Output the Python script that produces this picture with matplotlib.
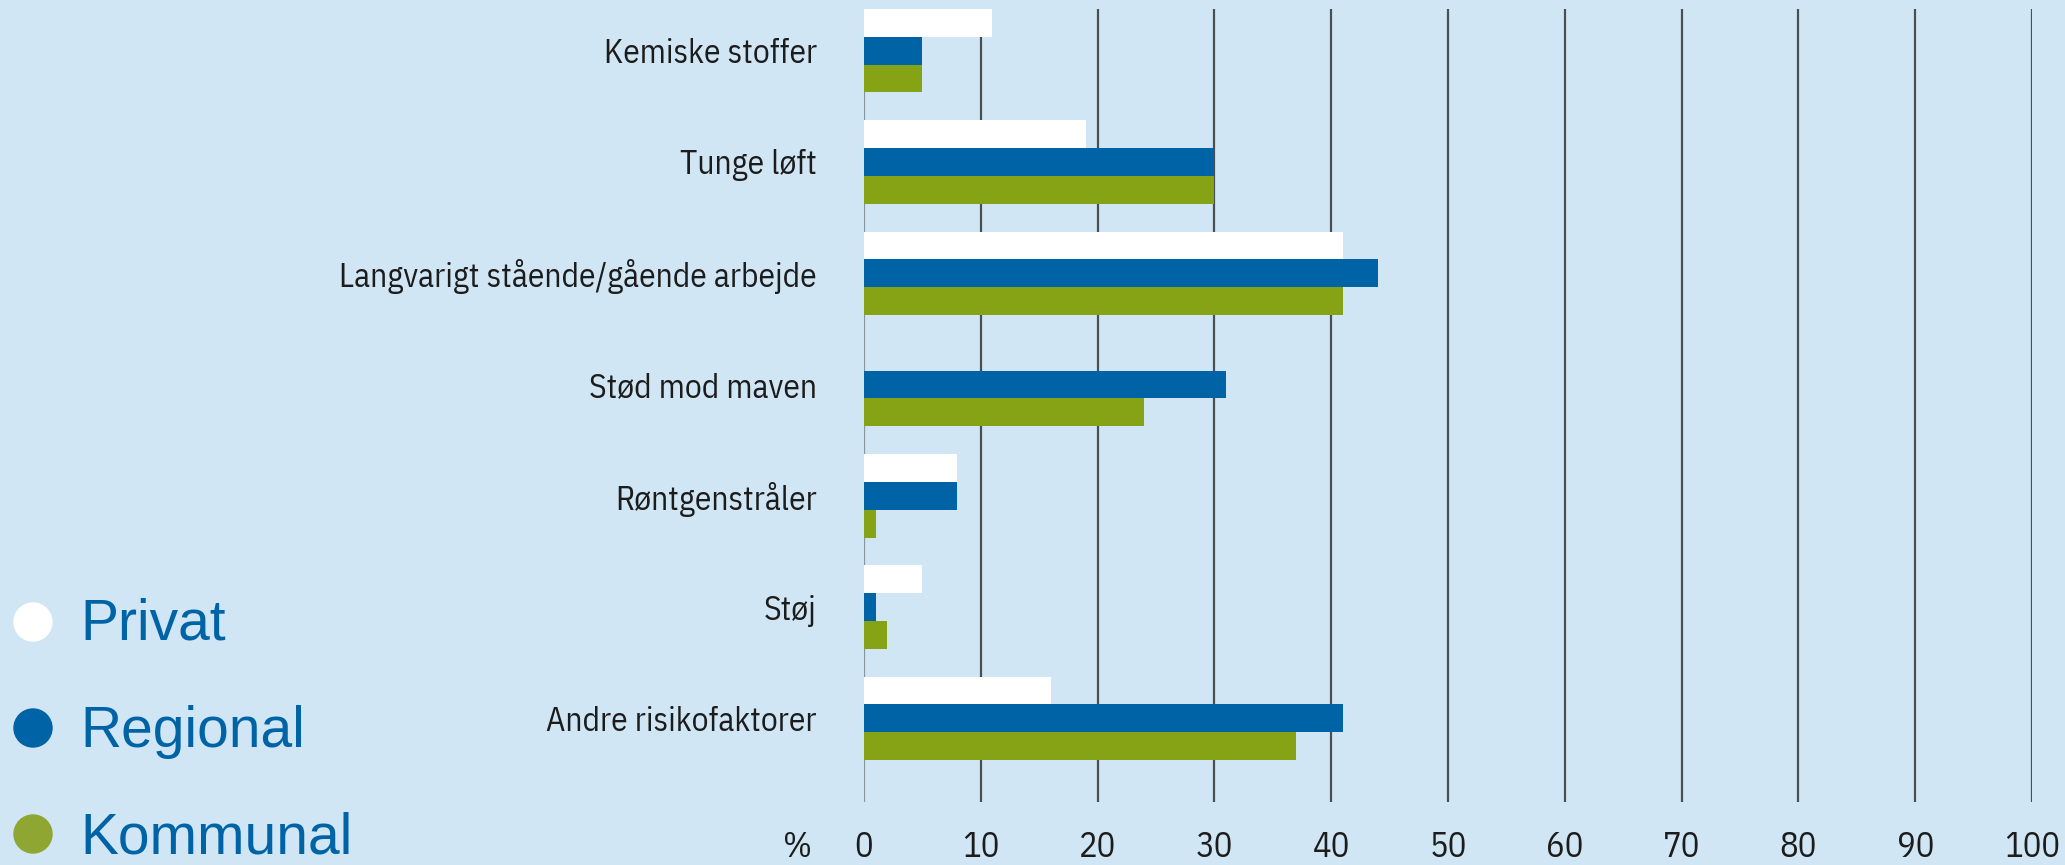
import numpy as np
import matplotlib
matplotlib.use('Agg')
from matplotlib import pyplot as plt

# data (percent)
categories = ['Kemiske stoffer', 'Tunge løft', 'Langvarigt stående/gående arbejde',
              'Stød mod maven', 'Røntgenstråler', 'Støj', 'Andre risikofaktorer']
privat = [11, 19, 41, 0, 8, 5, 16]
regional = [5, 30, 44, 31, 8, 1, 41]
kommunal = [5, 30, 41, 24, 1, 2, 37]
series_names = ['Privat', 'Regional', 'Kommunal']
xticks = list(range(0, 101, 10))

bg = '#d0e6f4'
c_white = '#ffffff'
c_blue = '#0063a6'
c_green = '#86a315'
txt_col = '#1c1c1c'
label_font = ['IBM Plex Sans Condensed', 'DejaVu Sans']

fig = plt.figure(figsize=(20.65, 8.65), dpi=100, facecolor=bg)
ax = fig.add_axes([864 / 2065, 63 / 865, (2032 - 864) / 2065, (802 - 9) / 865])
ax.set_facecolor(bg)

y = np.arange(len(categories))
h = 0.25
ax.barh(y - h, privat, height=h, color=c_white, zorder=3)
ax.barh(y, regional, height=h, color=c_blue, zorder=3)
ax.barh(y + h, kommunal, height=h, color=c_green, zorder=3)

ax.set_xlim(0, 100)
ax.set_ylim(len(categories) - 1 + 0.752, -0.375)

# vertical grid lines
for t in xticks:
    ax.axvline(t, color='#8a949c' if t == 0 else '#4a4f54', lw=1.6, zorder=1)

for s in ax.spines.values():
    s.set_visible(False)

ax.set_xticks(xticks)
ax.set_xticklabels([str(t) for t in xticks], fontsize=25, family=label_font, color=txt_col)
ax.tick_params(axis='x', length=0, pad=20)
ax.set_yticks(y)
ax.set_yticklabels(categories, fontsize=24, family=label_font, color=txt_col)
ax.tick_params(axis='y', length=0, pad=34)

# percent sign left of the zero label
fig.text(812 / 2065, 1 - 847 / 865, '%', fontsize=25, family=label_font,
         color=txt_col, ha='right', va='center')

# legend with dots
dot_colors = [c_white, c_blue, '#8fa632']
for i, (name, col) in enumerate(zip(series_names, dot_colors)):
    yc = 622 + i * 106
    yb = 640 + i * 107
    fig.patches.append(matplotlib.patches.Ellipse((33 / 2065, 1 - yc / 865), 38 / 2065, 38 / 865,
                                                  transform=fig.transFigure, color=col))
    fig.text(80 / 2065, 1 - yb / 865, name, fontsize=41, family='Liberation Sans',
             color=c_blue, ha='left', va='baseline')

fig.savefig('out.png', dpi=100, facecolor=bg)
